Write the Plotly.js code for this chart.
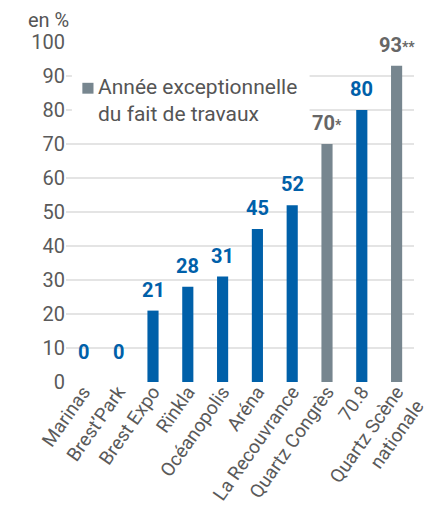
<!DOCTYPE html>
<html>
<head>
<meta charset="utf-8">
<script src="https://cdn.plot.ly/plotly-3.0.1.min.js"></script>
<style>html,body{margin:0;padding:0;background:#fff;}#chart{width:441px;height:506px;}</style>
</head>
<body>
<div id="chart"></div>
<script>
// Data
const categories = ["Marinas", "Brest’Park", "Brest Expo", "Rïnkla", "Océanopolis", "Aréna", "La Recouvrance", "Quartz Congrès", "70.8", "Quartz Scène<br>nationale"];
const values = [0, 0, 21, 28, 31, 45, 52, 70, 80, 93];
const exceptional = [false, false, false, false, false, false, false, true, false, true];
const suffixes = ["", "", "", "", "", "", "", "*", "", "**"];
const yTicks = [0, 10, 20, 30, 40, 50, 60, 70, 80, 90, 100];
const legendText = "Année exceptionnelle<br>du fait de travaux";
const unitText = "en %";

const BLUE = "#0060a9";
const GREY = "#77868f";
const GREY_TXT = "#666666";
const FONT = "Roboto, 'Open Sans', sans-serif";

const trace = {
  type: "bar",
  x: categories,
  y: values,
  width: 0.32,
  marker: {color: exceptional.map(e => e ? GREY : BLUE)},
  hoverinfo: "none",
  showlegend: false
};

const labelAnnotations = categories.map((c, i) => ({
  x: i, y: values[i], xref: "x", yref: "y",
  yanchor: "bottom", xanchor: "center",
  yshift: values[i] === 0 ? 16 : 7,
  showarrow: false,
  text: values[i] + (suffixes[i] ? '<span style="font-size:14px">' + suffixes[i] + '</span>' : ''),
  font: {family: FONT, size: 20, weight: 700, color: exceptional[i] ? GREY_TXT : BLUE}
}));

const layout = {
  width: 441, height: 506,
  margin: {l: 66, r: 27, t: 42, b: 124, pad: 0},
  paper_bgcolor: "#fff", plot_bgcolor: "#fff",
  font: {family: FONT, color: "#555555"},
  showlegend: false,
  xaxis: {
    type: "category",
    range: [-0.5, categories.length - 0.5],
    tickangle: -55,
    ticklabelstandoff: -6,
    tickfont: {family: FONT, size: 19, color: "#5a5a5a"},
    showgrid: false, zeroline: false, showline: false,
    ticks: "", fixedrange: true
  },
  yaxis: {
    range: [0, 100],
    tickvals: yTicks,
    tickfont: {family: FONT, size: 20, color: "#5a5a5a"},
    showgrid: true, gridcolor: "#e4e4e4", gridwidth: 1.5,
    zeroline: false, showline: false, ticks: "", fixedrange: true
  },
  shapes: [
    {type: "rect", xref: "paper", yref: "paper", x0: 0.017, x1: 0.70, y0: 0.75, y1: 0.945,
     fillcolor: "#ffffff", line: {width: 0}, layer: "above"},
    {type: "rect", xref: "paper", yref: "paper", x0: 0.047, x1: 0.079, y0: 0.848, y1: 0.880,
     fillcolor: GREY, line: {width: 0}, layer: "above"}
  ],
  annotations: labelAnnotations.concat([
    {xref: "paper", yref: "paper", x: 0.086, y: 0.829, xanchor: "left", yanchor: "middle",
     align: "left", showarrow: false, text: legendText,
     font: {family: FONT, size: 21, color: "#555555"}},
    {xref: "paper", yref: "paper", x: -0.115, y: 1, xanchor: "left", yanchor: "bottom",
     yshift: 8, showarrow: false, text: unitText,
     font: {family: FONT, size: 20, color: "#555555"}}
  ])
};

Plotly.newPlot("chart", [trace], layout, {displayModeBar: false, staticPlot: true});
</script>
</body>
</html>
